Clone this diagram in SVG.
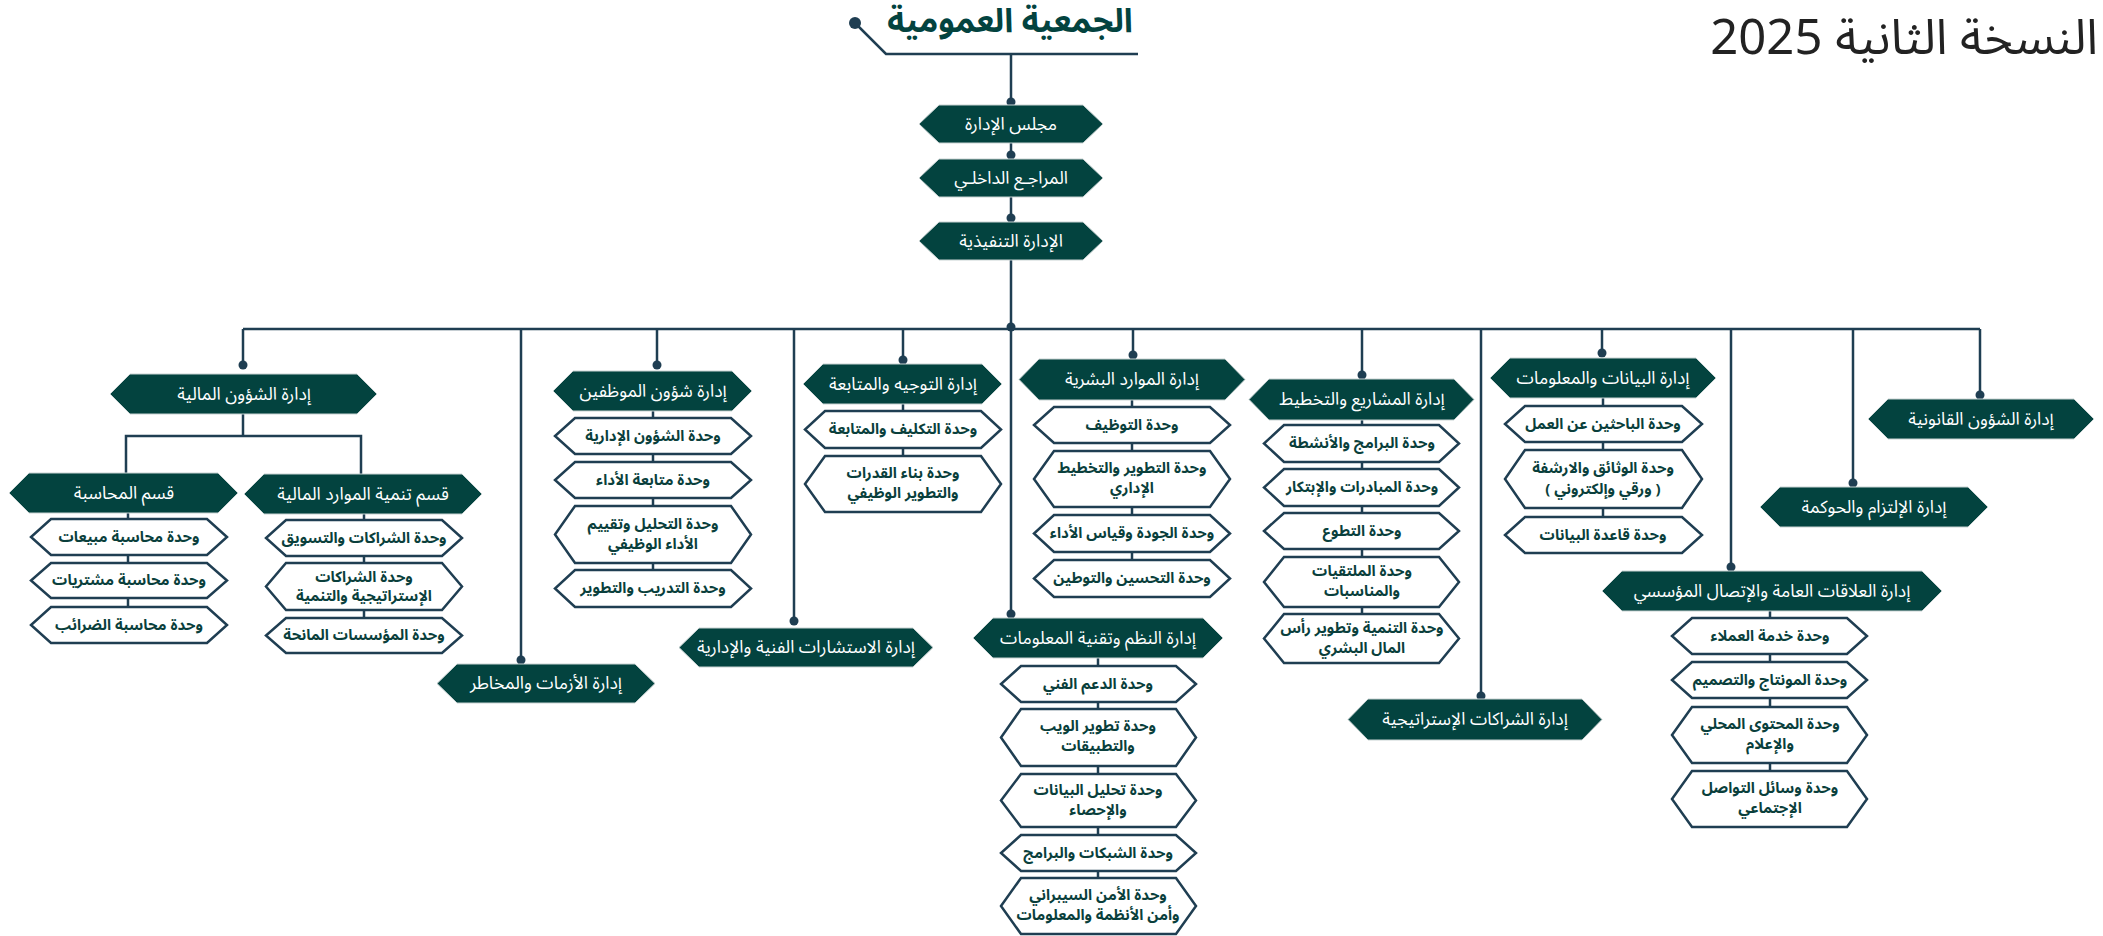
<svg xmlns="http://www.w3.org/2000/svg" width="2103" height="936" viewBox="0 0 2103 936">
<style>
.d polygon{fill:#03433f;stroke:#c9d3d3;stroke-width:1}
.u polygon{fill:#ffffff;stroke:#1f3e52;stroke-width:2.5}
.dt{fill:#ffffff;font-family:'Noto Sans Arabic','DejaVu Sans',sans-serif;font-size:17.5px;text-anchor:middle;direction:rtl}
.ut{fill:#0a3f3c;font-family:'Noto Sans Arabic','DejaVu Sans',sans-serif;font-size:15px;font-weight:bold;text-anchor:middle;direction:rtl}
.ln{stroke:#1f3e52;stroke-width:2.5;fill:none}
.dot{fill:#1f3e52}
</style>
<rect width="2103" height="936" fill="#ffffff"/>
<g id="version-title"><text x="2098" y="54" font-family="'Noto Sans Arabic','DejaVu Sans',sans-serif" font-size="49" fill="#222222" text-anchor="end">النسخة الثانية 2025</text></g>
<g id="title"><text x="1010" y="32" font-family="'Noto Sans Arabic','DejaVu Sans',sans-serif" font-size="33" font-weight="bold" fill="#03433f" text-anchor="middle" direction="rtl">الجمعية العمومية</text></g>
<g id="connectors">
<polyline class="ln" points="855,23 886,54 1138,54"/>
<circle class="dot" cx="855" cy="23" r="6"/>
<line class="ln" x1="1011" y1="54" x2="1011" y2="614"/>
<line class="ln" x1="243" y1="329" x2="1980" y2="329"/>
<polyline class="ln" points="243,329 243,365"/>
<line class="ln" x1="521" y1="329" x2="521" y2="660"/>
<line class="ln" x1="657" y1="329" x2="657" y2="365"/>
<line class="ln" x1="794" y1="329" x2="794" y2="621"/>
<line class="ln" x1="903" y1="329" x2="903" y2="360"/>
<line class="ln" x1="1133" y1="329" x2="1133" y2="355"/>
<line class="ln" x1="1362" y1="329" x2="1362" y2="375"/>
<line class="ln" x1="1481" y1="329" x2="1481" y2="696"/>
<line class="ln" x1="1602" y1="329" x2="1602" y2="353"/>
<line class="ln" x1="1731" y1="329" x2="1731" y2="567"/>
<line class="ln" x1="1853" y1="329" x2="1853" y2="483"/>
<line class="ln" x1="1980" y1="329" x2="1980" y2="395"/>
<polyline class="ln" points="243,414 243,436"/>
<polyline class="ln" points="126,473 126,436 361,436 361,474"/>
<line class="ln" x1="128" y1="513" x2="128" y2="607"/>
<line class="ln" x1="364" y1="514" x2="364" y2="618"/>
<line class="ln" x1="653" y1="411" x2="653" y2="570"/>
<line class="ln" x1="903" y1="404" x2="903" y2="456"/>
<line class="ln" x1="1132" y1="400" x2="1132" y2="560"/>
<line class="ln" x1="1362" y1="420" x2="1362" y2="614"/>
<line class="ln" x1="1603" y1="398" x2="1603" y2="517"/>
<line class="ln" x1="1770" y1="611" x2="1770" y2="771"/>
<line class="ln" x1="1098" y1="658" x2="1098" y2="878"/>
<circle class="dot" cx="1011" cy="102" r="4.5"/>
<circle class="dot" cx="1011" cy="155" r="4.5"/>
<circle class="dot" cx="1011" cy="218" r="4.5"/>
<circle class="dot" cx="1011" cy="327" r="4.5"/>
<circle class="dot" cx="1011" cy="614" r="4.5"/>
<circle class="dot" cx="243" cy="365" r="4.5"/>
<circle class="dot" cx="521" cy="660" r="4.5"/>
<circle class="dot" cx="657" cy="365" r="4.5"/>
<circle class="dot" cx="794" cy="621" r="4.5"/>
<circle class="dot" cx="903" cy="360" r="4.5"/>
<circle class="dot" cx="1133" cy="355" r="4.5"/>
<circle class="dot" cx="1362" cy="375" r="4.5"/>
<circle class="dot" cx="1481" cy="696" r="4.5"/>
<circle class="dot" cx="1602" cy="353" r="4.5"/>
<circle class="dot" cx="1731" cy="567" r="4.5"/>
<circle class="dot" cx="1853" cy="483" r="4.5"/>
<circle class="dot" cx="1980" cy="395" r="4.5"/>
</g>
<g id="n-board" class="d"><polygon points="939,105 1083,105 1103,124 1083,143 939,143 919,124"/><text class="dt" x="1011" y="130">مجلس الإدارة</text></g>
<g id="n-audit" class="d"><polygon points="939,159 1083,159 1103,178 1083,197 939,197 919,178"/><text class="dt" x="1011" y="184">المراجـع الداخلـي</text></g>
<g id="n-exec" class="d"><polygon points="939,222 1083,222 1103,241 1083,260 939,260 919,241"/><text class="dt" x="1011" y="247">الإدارة التنفيذية</text></g>
<g id="n-fin" class="d"><polygon points="130,374 357,374 377,394 357,414 130,414 110,394"/><text class="dt" x="244" y="400">إدارة الشؤون المالية</text></g>
<g id="n-acc" class="d"><polygon points="29,473 218,473 238,493 218,513 29,513 9,493"/><text class="dt" x="124" y="499">قسم المحاسبة</text></g>
<g id="n-fres" class="d"><polygon points="264,474 462,474 482,494 462,514 264,514 244,494"/><text class="dt" x="363" y="500">قسم تنمية الموارد المالية</text></g>
<g id="n-staff" class="d"><polygon points="573,371 732,371 752,391 732,411 573,411 553,391"/><text class="dt" x="653" y="397">إدارة شؤون الموظفين</text></g>
<g id="n-guide" class="d"><polygon points="823,364 982,364 1002,384 982,404 823,404 803,384"/><text class="dt" x="903" y="390">إدارة التوجيه والمتابعة</text></g>
<g id="n-hr" class="d"><polygon points="1039,359 1225,359 1245,379.5 1225,400 1039,400 1019,379.5"/><text class="dt" x="1132" y="385">إدارة الموارد البشرية</text></g>
<g id="n-proj" class="d"><polygon points="1269,379 1454,379 1474,399.5 1454,420 1269,420 1249,399.5"/><text class="dt" x="1362" y="405">إدارة المشاريع والتخطيط</text></g>
<g id="n-data" class="d"><polygon points="1510,358 1696,358 1716,378 1696,398 1510,398 1490,378"/><text class="dt" x="1603" y="384">إدارة البيانات والمعلومات</text></g>
<g id="n-legal" class="d"><polygon points="1888,399 2074,399 2094,419 2074,439 1888,439 1868,419"/><text class="dt" x="1981" y="425">إدارة الشؤون القانونية</text></g>
<g id="n-comp" class="d"><polygon points="1780,487 1968,487 1988,507 1968,527 1780,527 1760,507"/><text class="dt" x="1874" y="513">إدارة الإلتزام والحوكمة</text></g>
<g id="n-pr" class="d"><polygon points="1622,571 1922,571 1942,591 1922,611 1622,611 1602,591"/><text class="dt" x="1772" y="597">إدارة العلاقات العامة والإتصال المؤسسي</text></g>
<g id="n-part" class="d"><polygon points="1368,699 1582,699 1602,719.5 1582,740 1368,740 1348,719.5"/><text class="dt" x="1475" y="725">إدارة الشراكات الإستراتيجية</text></g>
<g id="n-it" class="d"><polygon points="993,618 1203,618 1223,638 1203,658 993,658 973,638"/><text class="dt" x="1098" y="644">إدارة النظم وتقنية المعلومات</text></g>
<g id="n-cons" class="d"><polygon points="699,628 913,628 933,647.5 913,667 699,667 679,647.5"/><text class="dt" x="806" y="653">إدارة الاستشارات الفنية والإدارية</text></g>
<g id="n-crisis" class="d"><polygon points="457,664 635,664 655,683.5 635,703 457,703 437,683.5"/><text class="dt" x="546" y="689">إدارة الأزمات والمخاطر</text></g>
<g id="u-acc1" class="u"><polygon points="51,519 207,519 227,537 207,555 51,555 31,537"/><text class="ut" x="129" y="542">وحدة محاسبة مبيعات</text></g>
<g id="u-acc2" class="u"><polygon points="51,563 207,563 227,580.5 207,598 51,598 31,580.5"/><text class="ut" x="129" y="585">وحدة محاسبة مشتريات</text></g>
<g id="u-acc3" class="u"><polygon points="51,607 207,607 227,625 207,643 51,643 31,625"/><text class="ut" x="129" y="630">وحدة محاسبة الضرائب</text></g>
<g id="u-fres1" class="u"><polygon points="286,520 442,520 462,538 442,556 286,556 266,538"/><text class="ut" x="364" y="543">وحدة الشراكات والتسويق</text></g>
<g id="u-fres2" class="u"><polygon points="286,563 442,563 462,586.5 442,610 286,610 266,586.5"/><text class="ut"><tspan x="364" y="582">وحدة الشراكات</tspan><tspan x="364" y="601">الإستراتيجية والتنمية</tspan></text></g>
<g id="u-fres3" class="u"><polygon points="286,618 442,618 462,635.5 442,653 286,653 266,635.5"/><text class="ut" x="364" y="640">وحدة المؤسسات المانحة</text></g>
<g id="u-staff1" class="u"><polygon points="575,418 731,418 751,436 731,454 575,454 555,436"/><text class="ut" x="653" y="441">وحدة الشؤون الإدارية</text></g>
<g id="u-staff2" class="u"><polygon points="575,462 731,462 751,480 731,498 575,498 555,480"/><text class="ut" x="653" y="485">وحدة متابعة الأداء</text></g>
<g id="u-staff3" class="u"><polygon points="575,506 731,506 751,534.5 731,563 575,563 555,534.5"/><text class="ut"><tspan x="653" y="529">وحدة التحليل وتقييم</tspan><tspan x="653" y="549">الأداء الوظيفي</tspan></text></g>
<g id="u-staff4" class="u"><polygon points="575,570 731,570 751,588.5 731,607 575,607 555,588.5"/><text class="ut" x="653" y="593">وحدة التدريب والتطوير</text></g>
<g id="u-guide1" class="u"><polygon points="825,411 981,411 1001,429.5 981,448 825,448 805,429.5"/><text class="ut" x="903" y="434">وحدة التكليف والمتابعة</text></g>
<g id="u-guide2" class="u"><polygon points="825,456 981,456 1001,484 981,512 825,512 805,484"/><text class="ut"><tspan x="903" y="478">وحدة بناء القدرات</tspan><tspan x="903" y="498">والتطوير الوظيفي</tspan></text></g>
<g id="u-hr1" class="u"><polygon points="1054,407 1210,407 1230,425 1210,443 1054,443 1034,425"/><text class="ut" x="1132" y="430">وحدة التوظيف</text></g>
<g id="u-hr2" class="u"><polygon points="1054,451 1210,451 1230,479 1210,507 1054,507 1034,479"/><text class="ut"><tspan x="1132" y="473">وحدة التطوير والتخطيط</tspan><tspan x="1132" y="493">الإداري</tspan></text></g>
<g id="u-hr3" class="u"><polygon points="1054,515 1210,515 1230,533.5 1210,552 1054,552 1034,533.5"/><text class="ut" x="1132" y="538">وحدة الجودة وقياس الأداء</text></g>
<g id="u-hr4" class="u"><polygon points="1054,560 1210,560 1230,578.5 1210,597 1054,597 1034,578.5"/><text class="ut" x="1132" y="583">وحدة التحسين والتوطين</text></g>
<g id="u-proj1" class="u"><polygon points="1284,425 1439,425 1459,443.5 1439,462 1284,462 1264,443.5"/><text class="ut" x="1362" y="448">وحدة البرامج والأنشطة</text></g>
<g id="u-proj2" class="u"><polygon points="1284,469 1439,469 1459,487.5 1439,506 1284,506 1264,487.5"/><text class="ut" x="1362" y="492">وحدة المبادرات والإبتكار</text></g>
<g id="u-proj3" class="u"><polygon points="1284,513 1439,513 1459,531 1439,549 1284,549 1264,531"/><text class="ut" x="1362" y="536">وحدة التطوع</text></g>
<g id="u-proj4" class="u"><polygon points="1284,557 1439,557 1459,582 1439,607 1284,607 1264,582"/><text class="ut"><tspan x="1362" y="576">وحدة الملتقيات</tspan><tspan x="1362" y="596">والمناسبات</tspan></text></g>
<g id="u-proj5" class="u"><polygon points="1284,614 1439,614 1459,638.5 1439,663 1284,663 1264,638.5"/><text class="ut"><tspan x="1362" y="633">وحدة التنمية وتطوير رأس</tspan><tspan x="1362" y="653">المال البشري</tspan></text></g>
<g id="u-data1" class="u"><polygon points="1525,406 1682,406 1702,424 1682,442 1525,442 1505,424"/><text class="ut" x="1603" y="429">وحدة الباحثين عن العمل</text></g>
<g id="u-data2" class="u"><polygon points="1525,450 1682,450 1702,479 1682,508 1525,508 1505,479"/><text class="ut"><tspan x="1603" y="473">وحدة الوثائق والارشفة</tspan><tspan x="1603" y="494">( ورقي وإلكتروني )</tspan></text></g>
<g id="u-data3" class="u"><polygon points="1525,517 1682,517 1702,535 1682,553 1525,553 1505,535"/><text class="ut" x="1603" y="540">وحدة قاعدة البيانات</text></g>
<g id="u-pr1" class="u"><polygon points="1692,618 1847,618 1867,636 1847,654 1692,654 1672,636"/><text class="ut" x="1770" y="641">وحدة خدمة العملاء</text></g>
<g id="u-pr2" class="u"><polygon points="1692,662 1847,662 1867,680 1847,698 1692,698 1672,680"/><text class="ut" x="1770" y="685">وحدة المونتاج والتصميم</text></g>
<g id="u-pr3" class="u"><polygon points="1692,707 1847,707 1867,735 1847,763 1692,763 1672,735"/><text class="ut"><tspan x="1770" y="729">وحدة المحتوى المحلي</tspan><tspan x="1770" y="749">والإعلام</tspan></text></g>
<g id="u-pr4" class="u"><polygon points="1692,771 1847,771 1867,799 1847,827 1692,827 1672,799"/><text class="ut"><tspan x="1770" y="793">وحدة وسائل التواصل</tspan><tspan x="1770" y="813">الإجتماعي</tspan></text></g>
<g id="u-it1" class="u"><polygon points="1021,666 1176,666 1196,684 1176,702 1021,702 1001,684"/><text class="ut" x="1098" y="689">وحدة الدعم الفني</text></g>
<g id="u-it2" class="u"><polygon points="1021,709 1176,709 1196,737.5 1176,766 1021,766 1001,737.5"/><text class="ut"><tspan x="1098" y="731">وحدة تطوير الويب</tspan><tspan x="1098" y="751">والتطبيقات</tspan></text></g>
<g id="u-it3" class="u"><polygon points="1021,774 1176,774 1196,800.5 1176,827 1021,827 1001,800.5"/><text class="ut"><tspan x="1098" y="795">وحدة تحليل البيانات</tspan><tspan x="1098" y="815">والإحصاء</tspan></text></g>
<g id="u-it4" class="u"><polygon points="1021,835 1176,835 1196,853 1176,871 1021,871 1001,853"/><text class="ut" x="1098" y="858">وحدة الشبكات والبرامج</text></g>
<g id="u-it5" class="u"><polygon points="1021,878 1176,878 1196,906 1176,934 1021,934 1001,906"/><text class="ut"><tspan x="1098" y="900">وحدة الأمن السيبراني</tspan><tspan x="1098" y="920">وأمن الأنظمة والمعلومات</tspan></text></g>
</svg>
